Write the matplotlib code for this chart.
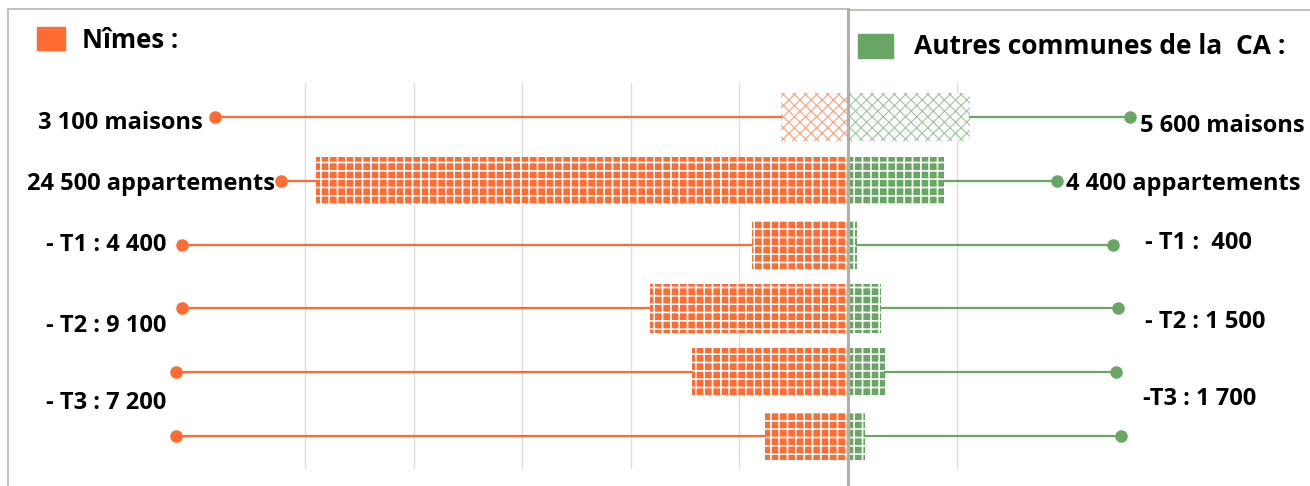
import numpy as np
import matplotlib.pyplot as plt
from matplotlib.lines import Line2D
from matplotlib.patches import Rectangle

plt.rcParams['font.family'] = ['Open Sans', 'DejaVu Sans']

# Housing stock by type
categories = ['maisons', 'appartements', 'T1', 'T2', 'T3', 'T4+']
nimes = [3100, 24500, 4400, 9100, 7200, 3800]
autres = [5600, 4400, 400, 1500, 1700, 800]

left_labels = ['3 100 maisons', '24 500 appartements', '- T1 : 4 400',
               '- T2 : 9 100', '- T3 : 7 200']
right_labels = ['5 600 maisons', '4 400 appartements', '- T1 :  400',
                '- T2 : 1 500', '-T3 : 1 700']

ORANGE = '#ff6b33'
GREEN = '#68a763'
W, H = 1310, 486

# leader line end points (x in data units)
left_ends = [-29150, -26100, -30650, -30650, -30950, -30950]
right_ends = [12980, 9620, 12200, 12430, 12340, 12570]

fig = plt.figure(figsize=(W / 100, H / 100), dpi=100)
ax = fig.add_axes([0, 0, 1, 1])
scale = 0.02172  # pixels per unit
ax.set_xlim(-848 / scale, (W - 848) / scale)
ax.set_ylim((H - 117) / 63.8, -117 / 63.8)
ax.axis('off')

y = np.arange(len(categories))

# vertical grid
for g in [-25000, -20000, -15000, -10000, -5000, 5000]:
    ax.plot([g, g], [-0.53, 5.5], color='#dddddd', lw=1, zorder=0)

def hatch_lw(patches, lw):
    for p in patches:
        if hasattr(p, 'set_hatch_linewidth'):
            p.set_hatch_linewidth(lw)

# houses: light scale pattern, others: dense dots
bh = 0.76
b = ax.barh(y[:1], [-v for v in nimes[:1]], height=bh, color='white',
            edgecolor=ORANGE, hatch='xxx', lw=0, alpha=0.65, zorder=2)
hatch_lw(b, 0.8)
b = ax.barh(y[:1], autres[:1], height=bh, color='white',
            edgecolor=GREEN, hatch='xxx', lw=0, alpha=0.65, zorder=2)
hatch_lw(b, 0.8)
b = ax.barh(y[1:], [-v for v in nimes[1:]], height=bh, color=ORANGE,
            edgecolor='white', hatch='++', lw=0, zorder=2)
hatch_lw(b, 1.2)
b = ax.barh(y[1:], autres[1:], height=bh, color=GREEN,
            edgecolor='white', hatch='++', lw=0, zorder=2)
hatch_lw(b, 1.2)

# leader lines with end dots
for i in range(len(categories)):
    ax.plot([left_ends[i], -nimes[i]], [y[i], y[i]], color=ORANGE, lw=1.6, zorder=3)
    ax.plot(left_ends[i], y[i], 'o', color=ORANGE, ms=8, zorder=4)
    ax.plot([autres[i], right_ends[i]], [y[i], y[i]], color=GREEN, lw=1.6, zorder=3)
    ax.plot(right_ends[i], y[i], 'o', color=GREEN, ms=8, zorder=4)

def px(x, yy):
    return x / W, 1 - yy / H

# labels
lpos = [(203, 123), (275, 184), (166, 245), (166, 326), (166, 403)]
for txt, (x0, y0) in zip(left_labels, lpos):
    fig.text(*px(x0, y0), txt, ha='right', va='center', fontsize=17,
             fontweight='bold')
rpos = [(1140, 126), (1066, 184), (1145, 243), (1145, 322), (1143, 399)]
for txt, (x0, y0) in zip(right_labels, rpos):
    fig.text(*px(x0, y0), txt, ha='left', va='center', fontsize=17,
             fontweight='bold')

# panel headers
fig.patches.append(Rectangle(px(37, 50), 28 / W, 23 / H, color=ORANGE,
                             transform=fig.transFigure))
fig.text(*px(82, 41), 'Nîmes :', ha='left', va='center', fontsize=18.5,
         fontweight='bold')
fig.patches.append(Rectangle(px(858, 58), 35 / W, 24 / H, color=GREEN,
                             transform=fig.transFigure))
fig.text(*px(914, 46), 'Autres communes de la  CA :', ha='left', va='center',
         fontsize=19, fontweight='bold')

# panel frames
frame = '#c2c2ba'
fig.lines.append(Line2D([8 / W, 8 / W], [0, 1 - 9 / H], color=frame, lw=1.5,
                        transform=fig.transFigure))
fig.lines.append(Line2D([8 / W, 847 / W], [1 - 9 / H, 1 - 9 / H], color=frame,
                        lw=1.5, transform=fig.transFigure))
fig.lines.append(Line2D([848 / W, 1], [1 - 10 / H, 1 - 10 / H], color=frame,
                        lw=1.5, transform=fig.transFigure))
fig.lines.append(Line2D([848 / W, 848 / W], [0, 1 - 9 / H], color='#b0b0a8',
                        lw=2.2, transform=fig.transFigure, zorder=5))

fig.savefig('out.png', dpi=100)
